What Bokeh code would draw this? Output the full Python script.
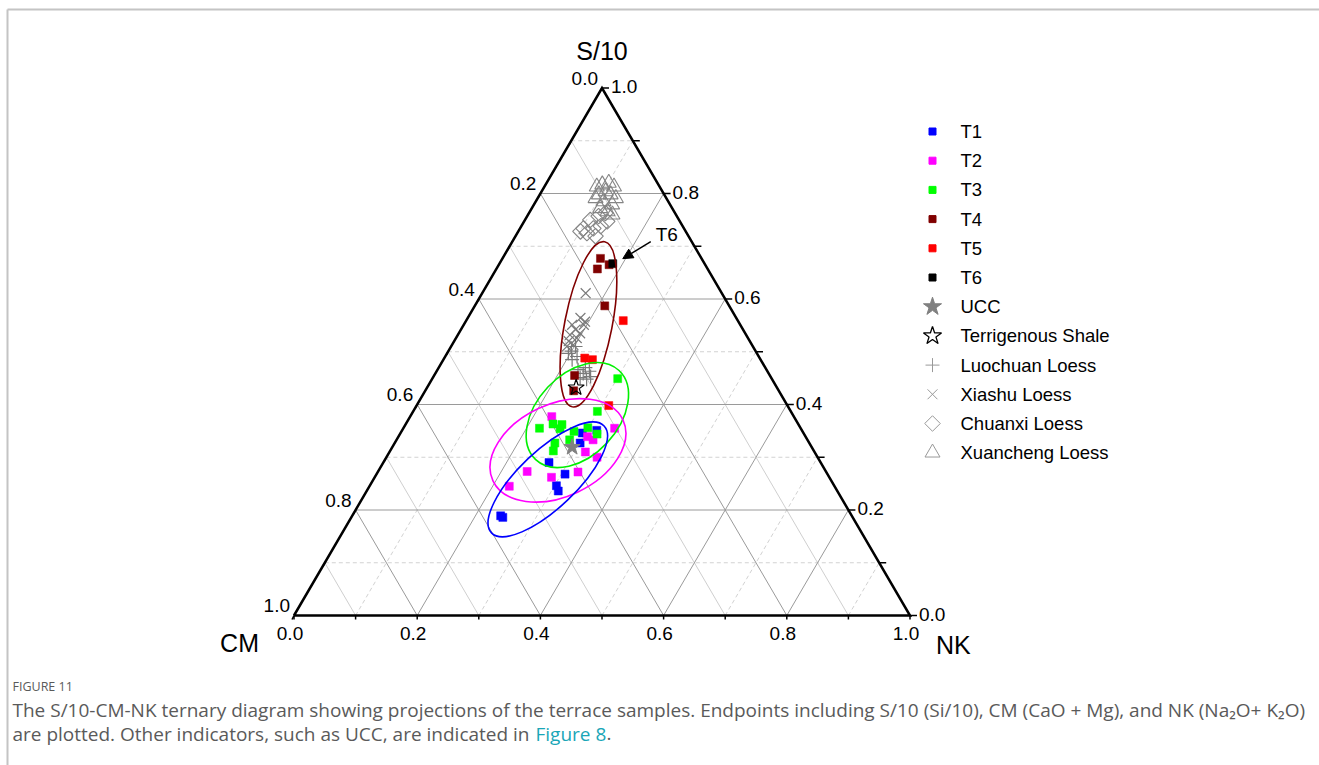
import numpy as np
from bokeh.plotting import figure
from bokeh.models import Range1d, Arrow, NormalHead
from bokeh.core.properties import value
from bokeh.embed import file_html
from bokeh.resources import INLINE

# ---------------------------------------------------------------------------
# Compositions as fractions: S = S/10, NK = Na2O + K2O (CM = 1 - S - NK)
# ---------------------------------------------------------------------------
t1_s = [0.189, 0.186, 0.246, 0.236, 0.290, 0.268, 0.327, 0.346, 0.351]
t1_nk = [0.241, 0.246, 0.303, 0.311, 0.269, 0.306, 0.301, 0.295, 0.316]

t2_s = [0.245, 0.273, 0.262, 0.272, 0.377, 0.310, 0.300, 0.339, 0.333, 0.355]
t2_nk = [0.227, 0.242, 0.287, 0.325, 0.230, 0.318, 0.342, 0.307, 0.319, 0.343]

t3_s = [0.449, 0.387, 0.363, 0.355, 0.362, 0.354, 0.349, 0.356, 0.344, 0.333, 0.327, 0.312]
t3_nk = [0.301, 0.299, 0.239, 0.221, 0.254, 0.255, 0.280, 0.299, 0.320, 0.281, 0.260, 0.265]

t4_s = [0.677, 0.657, 0.665, 0.587, 0.455, 0.426]
t4_nk = [0.159, 0.164, 0.179, 0.211, 0.228, 0.241]

t5_s = [0.559, 0.488, 0.485, 0.398]
t5_nk = [0.255, 0.228, 0.242, 0.312]

t6_s = [0.667]
t6_nk = [0.184]

ucc_s = [0.319]
ucc_nk = [0.292]

shale_s = [0.432]
shale_nk = [0.242]

luochuan_s = [0.470, 0.463, 0.459, 0.453, 0.451, 0.448, 0.466, 0.510, 0.501, 0.491, 0.485, 0.497]
luochuan_nk = [0.238, 0.248, 0.240, 0.255, 0.239, 0.251, 0.228, 0.202, 0.200, 0.214, 0.209, 0.197]

xiashu_s = [0.611, 0.564, 0.551, 0.542, 0.532, 0.526, 0.520, 0.513, 0.535, 0.557, 0.551, 0.510]
xiashu_nk = [0.168, 0.183, 0.195, 0.186, 0.182, 0.196, 0.186, 0.197, 0.197, 0.194, 0.176, 0.188]

chuanxi_s = [0.750, 0.757, 0.763, 0.734, 0.734, 0.725, 0.738, 0.719, 0.747, 0.728]
chuanxi_nk = [0.106, 0.116, 0.124, 0.103, 0.119, 0.113, 0.129, 0.130, 0.135, 0.101]

xuancheng_s = [0.817, 0.820, 0.813, 0.804, 0.798, 0.798, 0.785, 0.779, 0.772, 0.766,
               0.791, 0.760, 0.813, 0.791]
xuancheng_nk = [0.092, 0.101, 0.113, 0.104, 0.096, 0.115, 0.110, 0.127, 0.111, 0.126,
                0.094, 0.137, 0.085, 0.127]

# Confidence ellipses (T4, T3, T2, T1): centre composition, full axes as
# fractions of the triangle side, tilt in degrees
ell_s = [0.552, 0.380, 0.313, 0.258]
ell_nk = [0.202, 0.270, 0.272, 0.283]
ell_major = [0.273, 0.198, 0.233, 0.252]
ell_minor = [0.077, 0.132, 0.150, 0.093]
ell_angle = [78.9, 46.9, 25.1, 43.5]
ell_colors = ["#800000", "#00f000", "#ff00ff", "#0000ff"]

tick_values = [0.0, 0.2, 0.4, 0.6, 0.8, 1.0]
tick_labels = ["0.0", "0.2", "0.4", "0.6", "0.8", "1.0"]

legend_labels = ["T1", "T2", "T3", "T4", "T5", "T6", "UCC", "Terrigenous Shale",
                 "Luochuan Loess", "Xiashu Loess", "Chuanxi Loess", "Xuancheng Loess"]

# ---------------------------------------------------------------------------
# Page geometry (pixels) and coordinate helpers
# ---------------------------------------------------------------------------
W, H = 1319, 765
SIDE_PX = 616.0      # base length of the triangle
HEIGHT_PX = 527.5    # apex height of the triangle
X0_PX, Y0_PX = 293.5, 615.0   # CM corner

FONT = value("Liberation Sans")
CAP_FONT = value("Open Sans")


def px_x(px):
    return (px - X0_PX) / SIDE_PX


def px_y(py):
    return (Y0_PX - py) / HEIGHT_PX


def tern(s, nk):
    s = np.asarray(s, dtype=float)
    nk = np.asarray(nk, dtype=float)
    return nk + s / 2.0, s


p = figure(width=W, height=H,
           x_range=Range1d(px_x(0), px_x(W)), y_range=Range1d(px_y(H), px_y(0)),
           output_backend="svg", toolbar_location=None, min_border=0,
           x_axis_location=None, y_axis_location=None)
p.grid.visible = False
p.outline_line_color = None
p.background_fill_color = "white"
p.border_fill_color = "white"

# page frame
p.line([px_x(7), px_x(W)], [px_y(9), px_y(9)], line_color="#c4c4c4", line_width=2)
p.line([px_x(7), px_x(7)], [px_y(9), px_y(H)], line_color="#c4c4c4", line_width=2)

# ---------------------------------------------------------------------------
# Grid
# ---------------------------------------------------------------------------
major_xs, major_ys = [], []
minor_dash_xs, minor_dash_ys = [], []
minor_solid_xs, minor_solid_ys = [], []
for k in range(1, 10):
    v = k / 10.0
    s_line = ([v / 2, 1 - v / 2], [v, v])                 # constant S/10
    n_line = ([v, v + (1 - v) / 2], [0, 1 - v])           # constant NK
    c_line = ([1 - v, (1 - v) / 2], [0, 1 - v])           # constant CM
    if k % 2 == 0:
        for xs, ys in (s_line, n_line, c_line):
            major_xs.append(xs)
            major_ys.append(ys)
    else:
        for xs, ys in (s_line, n_line):
            minor_dash_xs.append(xs)
            minor_dash_ys.append(ys)
        minor_solid_xs.append(c_line[0])
        minor_solid_ys.append(c_line[1])

p.multi_line(minor_dash_xs, minor_dash_ys, line_color="#d2d2d2", line_width=1, line_dash="4 3")
p.multi_line(minor_solid_xs, minor_solid_ys, line_color="#cfcfcf", line_width=1)
p.multi_line(major_xs, major_ys, line_color="#9a9a9a", line_width=1)

# triangle frame
p.line([0, 1, 0.5, 0], [0, 0, 1, 0], line_color="black", line_width=2.5, line_join="miter")

# ticks every 0.1
tk = np.linspace(0, 1, 11)
bx = [[v, v] for v in tk]
by = [[0, -4 / HEIGHT_PX] for v in tk]
rx = [[1 - v / 2, 1 - v / 2 + 7 / SIDE_PX] for v in tk]
ry = [[v, v] for v in tk]
lx = [[(1 - c) / 2, (1 - c) / 2 - 2 / SIDE_PX] for c in tk]
ly = [[1 - c, 1 - c - 4 / HEIGHT_PX] for c in tk]
p.multi_line(bx + rx + lx, by + ry + ly, line_color="black", line_width=1.5)

# tick labels
tv = np.asarray(tick_values)
p.text(x=list(tv), y=[0] * len(tv), text=tick_labels, text_font=FONT, text_font_size="19px",
       text_align="center", text_baseline="middle", x_offset=-4, y_offset=18, text_color="black")
p.text(x=list(1 - tv / 2), y=list(tv), text=tick_labels, text_font=FONT, text_font_size="19px",
       text_align="left", text_baseline="middle", x_offset=9, y_offset=-1.5, text_color="black")
p.text(x=list((1 - tv) / 2), y=list(1 - tv), text=tick_labels, text_font=FONT,
       text_font_size="19px", text_align="right", text_baseline="middle",
       x_offset=-4, y_offset=-10, text_color="black")

# axis titles
p.text(x=[0.5], y=[1.0], text=["S/10"], text_font=FONT, text_font_size="25px",
       text_align="center", text_baseline="middle", y_offset=-37)
p.text(x=[0.0], y=[0.0], text=["CM"], text_font=FONT, text_font_size="25px",
       text_align="right", text_baseline="middle", x_offset=-35, y_offset=27)
p.text(x=[1.0], y=[0.0], text=["NK"], text_font=FONT, text_font_size="25px",
       text_align="left", text_baseline="middle", x_offset=26, y_offset=29)

# ---------------------------------------------------------------------------
# Reference loess and crustal compositions
# ---------------------------------------------------------------------------
GRAY = "#808080"
x, y = tern(xuancheng_s, xuancheng_nk)
p.scatter(x, y, marker="triangle", size=15, fill_color=None, line_color="#858585", line_width=1.1)
x, y = tern(chuanxi_s, chuanxi_nk)
p.scatter(x, y, marker="square", size=11, angle=np.pi / 4, fill_color=None,
          line_color="#858585", line_width=1.1)
x, y = tern(xiashu_s, xiashu_nk)
p.scatter(x, y, marker="x", size=14, line_color="#7a7a7a", line_width=1.2)
x, y = tern(luochuan_s, luochuan_nk)
p.scatter(x, y, marker="cross", size=14, line_color="#7a7a7a", line_width=1.2)

# ---------------------------------------------------------------------------
# Terrace samples
# ---------------------------------------------------------------------------
series = [(t1_s, t1_nk, "#0000ff"), (t2_s, t2_nk, "#ff00ff"), (t3_s, t3_nk, "#00ff00"),
          (t4_s, t4_nk, "#800000"), (t5_s, t5_nk, "#ff0000"), (t6_s, t6_nk, "#000000")]
for s, nk, col in series:
    x, y = tern(s, nk)
    p.scatter(x, y, marker="square", size=8, fill_color=col, line_color=col, line_width=0.5)

x, y = tern(ucc_s, ucc_nk)
p.scatter(x, y, marker="star", size=17, fill_color=GRAY, line_color=GRAY)
x, y = tern(shale_s, shale_nk)
p.scatter(x, y, marker="star", size=17, fill_color="white", fill_alpha=0.0,
          line_color="black", line_width=1.2)

# confidence ellipses
ex, ey = tern(ell_s, ell_nk)
p.ellipse(x=ex, y=ey, width=list(np.asarray(ell_major) * SIDE_PX),
          height=list(np.asarray(ell_minor) * SIDE_PX), angle=ell_angle, angle_units="deg",
          width_units="screen", height_units="screen", fill_color=None,
          line_color=ell_colors, line_width=1.6)

# T6 call-out
t6x, t6y = tern(t6_s, t6_nk)
p.add_layout(Arrow(end=NormalHead(size=10, fill_color="black", line_color="black"),
                   x_start=t6x[0] + 38 / SIDE_PX, y_start=t6y[0] + 22 / HEIGHT_PX,
                   x_end=t6x[0] + 10 / SIDE_PX, y_end=t6y[0] + 5 / HEIGHT_PX,
                   line_color="black", line_width=1.5))
p.text(x=[t6x[0]], y=[t6y[0]], text=["T6"], text_font=FONT, text_font_size="19px",
       text_align="center", text_baseline="middle", x_offset=54, y_offset=-29)

# ---------------------------------------------------------------------------
# Legend
# ---------------------------------------------------------------------------
LX, LTX = 932, 960
rows = [131 + 29.2 * i for i in range(len(legend_labels))]
lgx = [px_x(LX)] * len(rows)
lgy = [px_y(r) for r in rows]
sq_cols = ["#0000ff", "#ff00ff", "#00ff00", "#800000", "#ff0000", "#000000"]
p.scatter(lgx[:6], lgy[:6], marker="square", size=7, fill_color=sq_cols, line_color=sq_cols)
p.scatter([lgx[6]], [lgy[6]], marker="star", size=19, fill_color=GRAY, line_color=GRAY)
p.scatter([lgx[7]], [lgy[7]], marker="star", size=19, fill_color="white", line_color="black",
          line_width=1.3)
p.scatter([lgx[8]], [lgy[8]], marker="cross", size=14, line_color="#999999", line_width=1)
p.scatter([lgx[9]], [lgy[9]], marker="x", size=14, line_color="#999999", line_width=1)
p.scatter([lgx[10]], [lgy[10]], marker="square", size=11, angle=np.pi / 4, fill_color=None,
          line_color="#999999", line_width=1)
p.scatter([lgx[11]], [lgy[11]], marker="triangle", size=15, fill_color=None,
          line_color="#999999", line_width=1)
p.text(x=[px_x(LTX)] * len(rows), y=lgy, text=legend_labels, text_font=FONT,
       text_font_size="18.5px", text_align="left", text_baseline="middle", text_color="black")

# ---------------------------------------------------------------------------
# Caption
# ---------------------------------------------------------------------------
CAP = "#5a5a5a"
p.text(x=[px_x(12)], y=[px_y(686)], text=["FIGURE 11"], text_font=CAP_FONT,
       text_font_size="12.5px", text_align="left", text_baseline="middle", text_color=CAP)
cap1 = ("The S/10-CM-NK ternary diagram showing projections of the terrace samples. "
        "Endpoints including S/10 (Si/10), CM (CaO + Mg), and NK (Na\u2082O+ K\u2082O)")
cap2a = "are plotted. Other indicators, such as UCC, are indicated in"
p.text(x=[px_x(12), px_x(12)], y=[px_y(709), px_y(733)], text=[cap1, cap2a],
       text_font=CAP_FONT, text_font_size="19px", text_align="left", text_baseline="middle",
       text_color=CAP)
p.text(x=[px_x(535)], y=[px_y(733)], text=["Figure 8"], text_font=CAP_FONT,
       text_font_size="19px", text_align="left", text_baseline="middle", text_color="#1aa6b7")
p.text(x=[px_x(606)], y=[px_y(733)], text=["."], text_font=CAP_FONT,
       text_font_size="19px", text_align="left", text_baseline="middle", text_color=CAP)

open("out.html", "w").write(file_html(p, INLINE))
